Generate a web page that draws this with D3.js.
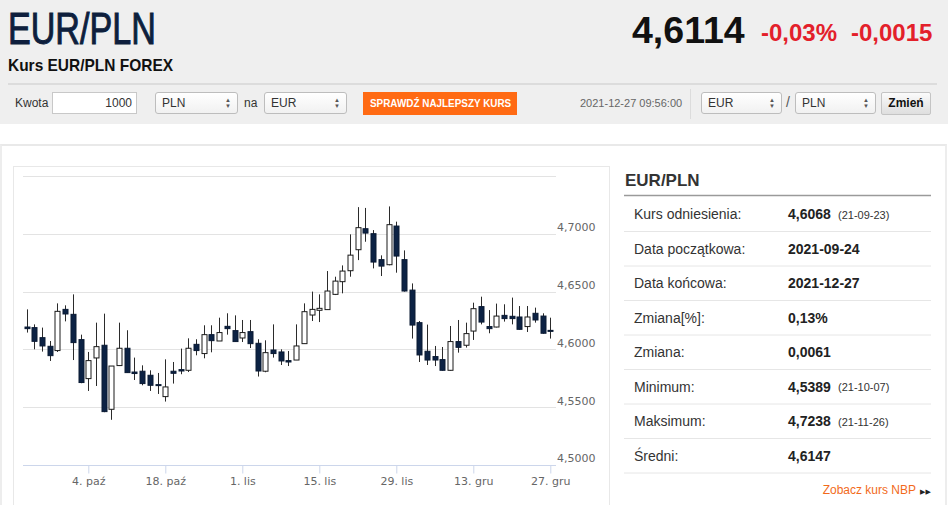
<!DOCTYPE html>
<html>
<head>
<meta charset="utf-8">
<script src="https://cdnjs.cloudflare.com/ajax/libs/d3/7.8.5/d3.min.js"></script>
<style>
  body { margin: 0; width: 948px; height: 505px; overflow: hidden; background: #fff;
         font-family: "Liberation Sans", Arial, sans-serif; color: #333; position: relative; }
  .abs { position: absolute; white-space: nowrap; }
  .narrow { display: inline-block; transform-origin: 0 0; }
  #head { position: absolute; left: 0; top: 0; width: 948px; height: 124px; background: #efefef; }
  .sel { position: absolute; height: 20px; border: 1px solid #bdbdbd; border-radius: 3px;
         background: linear-gradient(#ffffff, #f1f1f1); font-size: 12px; line-height: 20px;
         box-sizing: content-box; }
  .sel span.t { position: absolute; left: 6px; top: 0; }
  .sel span.a { position: absolute; right: 6px; top: 4px; font-size: 6px; line-height: 6px; color: #555; }
  #panel { position: absolute; left: 0; top: 144px; width: 943px; height: 400px;
           border-top: 2px solid #e9e9e9; border-left: 2px solid #ededed; border-right: 2px solid #ededed; }
  #box { position: absolute; left: 13px; top: 166px; width: 595px; height: 360px; border: 1px solid #e8e8e8; }
  #chart { position: absolute; left: 0; top: 0; }
</style>
</head>
<body>
<div id="head"></div>
<div class="abs" style="left:8px;top:5px;font-size:44px;color:#0e1f3d;line-height:48px;-webkit-text-stroke:1px #0e1f3d;">
  <span class="narrow" style="transform:scaleX(0.775)">EUR/PLN</span></div>
<div class="abs" style="left:8px;top:56px;font-size:17px;font-weight:bold;color:#111;">
  <span class="narrow" style="transform:scaleX(0.91)">Kurs EUR/PLN FOREX</span></div>
<div class="abs" style="left:632px;top:9px;font-size:37.5px;font-weight:bold;color:#111;">4,6114</div>
<div class="abs" style="left:761px;top:19px;font-size:24px;font-weight:bold;color:#e3202a;">-0,03%</div>
<div class="abs" style="left:851px;top:19px;font-size:24px;font-weight:bold;color:#e3202a;">-0,0015</div>
<div class="abs" style="left:8px;top:83px;width:929px;height:2px;background:#dcdcdc;"></div>

<div class="abs" style="left:15px;top:96px;font-size:12px;color:#333;">Kwota</div>
<div class="abs" style="left:52px;top:92px;width:83px;height:20px;border:1px solid #c8c8c8;background:#fff;font-size:12px;line-height:20px;text-align:right;">
  <span style="padding-right:4px">1000</span></div>
<div class="sel" style="left:155px;top:92px;width:81px;"><span class="t">PLN</span><span class="a">▲<br>▼</span></div>
<div class="abs" style="left:244px;top:96px;font-size:12px;">na</div>
<div class="sel" style="left:264px;top:92px;width:81px;"><span class="t">EUR</span><span class="a">▲<br>▼</span></div>
<div class="abs" style="left:363px;top:92px;width:154px;height:23px;background:#ff6a13;color:#fff;font-size:11px;font-weight:bold;line-height:23px;">
  <span class="narrow" style="transform:scaleX(0.9);margin-left:7px">SPRAWDŹ NAJLEPSZY KURS</span></div>
<div class="abs" style="left:580px;top:97px;font-size:11px;color:#666;">2021-12-27 09:56:00</div>
<div class="abs" style="left:690px;top:89px;width:1px;height:30px;background:#dcdcdc;"></div>
<div class="sel" style="left:701px;top:92px;width:79px;"><span class="t">EUR</span><span class="a">▲<br>▼</span></div>
<div class="abs" style="left:786px;top:94px;font-size:14px;color:#555;">/</div>
<div class="sel" style="left:795px;top:92px;width:79px;"><span class="t">PLN</span><span class="a">▲<br>▼</span></div>
<div class="abs" style="left:881px;top:92px;width:48px;height:21px;border:1px solid #c4c4c4;border-radius:2px;background:linear-gradient(#fbfbfb,#dedede);font-size:12px;font-weight:bold;line-height:21px;text-align:center;color:#111;">Zmień</div>

<div id="panel"></div>
<div id="box"></div>
<svg id="chart" width="948" height="505"></svg>

<script>
// trading days shown on the chart (2021)
const dates = [
  "09-22","09-23","09-24","09-27","09-28","09-29","09-30","10-01",
  "10-04","10-05","10-06","10-07","10-08","10-11","10-12","10-13","10-14","10-15",
  "10-18","10-19","10-20","10-21","10-22","10-25","10-26","10-27","10-28","10-29",
  "11-01","11-02","11-03","11-04","11-05","11-08","11-09","11-10","11-11","11-12",
  "11-15","11-16","11-17","11-18","11-19","11-22","11-23","11-24","11-25","11-26",
  "11-29","11-30","12-01","12-02","12-03","12-06","12-07","12-08","12-09","12-10",
  "12-13","12-14","12-15","12-16","12-17","12-20","12-21","12-22","12-23","12-24",
  "12-27"
];

const opens = [
  4.6193,4.6188,4.6101,4.6026,4.5989,4.6346,4.6303,4.6084,
  4.5746,4.5925,4.6035,4.5480,4.5859,4.6009,4.5803,4.5810,4.5775,4.5694,
  4.5590,4.5810,4.5824,4.5818,4.6043,4.5963,4.6127,4.6072,4.6199,4.6162,
  4.6098,4.6153,4.6052,4.5810,4.5994,4.5977,4.5902,4.5907,4.6049,4.6297,
  4.6338,4.6344,4.6476,4.6586,4.6681,4.6863,4.7045,4.7002,4.6777,4.6733,
  4.7068,4.6777,4.6513,4.6231,4.5983,4.5937,4.5911,4.5818,4.6067,4.6035,
  4.6158,4.6370,4.6197,4.6193,4.6294,4.6286,4.6280,4.6197,4.6312,4.6288,
  4.6164
];
const highs = [
  4.6346,4.6216,4.6188,4.6072,4.6398,4.6381,4.6476,4.6127,
  4.5977,4.6231,4.6309,4.5855,4.6231,4.6165,4.5928,4.5861,4.5818,4.5795,
  4.5913,4.5890,4.6006,4.6095,4.6087,4.6208,4.6208,4.6274,4.6312,4.6294,
  4.6254,4.6254,4.6087,4.6078,4.6216,4.6000,4.5985,4.6216,4.6398,4.6500,
  4.6476,4.6678,4.6629,4.6727,4.6996,4.7232,4.7225,4.7033,4.6814,4.7238,
  4.7106,4.6857,4.6571,4.6245,4.6214,4.6029,4.6020,4.6202,4.6254,4.6231,
  4.6404,4.6456,4.6340,4.6396,4.6390,4.6448,4.6375,4.6375,4.6361,4.6312,
  4.6274
];
const lows = [
  4.6145,4.6000,4.5980,4.5899,4.5977,4.6242,4.5907,4.5706,
  4.5639,4.5682,4.5455,4.5389,4.5855,4.5798,4.5734,4.5688,4.5639,4.5613,
  4.5547,4.5703,4.5784,4.5803,4.5948,4.5922,4.5974,4.6072,4.6127,4.6067,
  4.6063,4.6011,4.5764,4.5801,4.5928,4.5864,4.5855,4.5907,4.6049,4.6245,
  4.6236,4.6344,4.6470,4.6485,4.6629,4.6773,4.6932,4.6701,4.6635,4.6728,
  4.6664,4.6500,4.6093,4.5890,4.5864,4.5855,4.5815,4.5815,4.5971,4.6015,
  4.6081,4.6216,4.6139,4.6190,4.6240,4.6216,4.6170,4.6150,4.6231,4.6135,
  4.6093
];
const closes = [
  4.6179,4.6069,4.6029,4.5945,4.6329,4.6306,4.6058,4.5712,
  4.5902,4.6023,4.5460,4.5855,4.6009,4.5798,4.5790,4.5703,4.5688,4.5686,
  4.5674,4.5792,4.5812,4.6009,4.5989,4.6127,4.6075,4.6145,4.6179,4.6067,
  4.6145,4.6049,4.5812,4.5971,4.5963,4.5899,4.5890,4.6029,4.6326,4.6346,
  4.6355,4.6505,4.6591,4.6678,4.6816,4.7054,4.7007,4.6756,4.6721,4.7080,
  4.6808,4.6505,4.6210,4.5951,4.5907,4.5907,4.5818,4.6067,4.6017,4.6136,
  4.6352,4.6236,4.6179,4.6288,4.6266,4.6266,4.6173,4.6280,4.6254,4.6139,
  4.6162
];

const tickDates  = ["10-04","10-18","11-01","11-15","11-29","12-13","12-27"];
const tickLabels = ["4. paź","18. paź","1. lis","15. lis","29. lis","13. gru","27. gru"];
const yTicks = [4.50, 4.55, 4.60, 4.65, 4.70, 4.75];

// side table
const rowLabels = ["Kurs odniesienia:","Data początkowa:","Data końcowa:","Zmiana[%]:","Zmiana:","Minimum:","Maksimum:","Średni:"];
const rowValues = ["4,6068","2021-09-24","2021-12-27","0,13%","0,0061","4,5389","4,7238","4,6147"];
const rowDates  = ["(21-09-23)","","","","","(21-10-07)","(21-11-26)",""];

const candles = dates.map((d, i) => ({ d, o: opens[i], h: highs[i], l: lows[i], c: closes[i] }));

const svg = d3.select("#chart");

const x = d3.scalePoint()
            .domain(dates)
            .range([26.7, 550.3]);

const y = d3.scaleLinear()
            .domain([4.50, 4.75])
            .range([464.7, 176.2]);

const fmt = v => d3.format(".4f")(v).replace(".", ",");

// grid
svg.append("g")
   .selectAll("line")
   .data(yTicks.filter(t => t > 4.5))
   .enter().append("line")
   .attr("x1", 23).attr("x2", 556)
   .attr("y1", d => Math.round(y(d)) + 0.5)
   .attr("y2", d => Math.round(y(d)) + 0.5)
   .attr("stroke", "#e3e3e3")
   .attr("stroke-width", 1);

// y labels (the top line has none)
svg.append("g")
   .selectAll("text")
   .data(yTicks.filter(t => t < 4.74))
   .enter().append("text")
   .attr("x", 557)
   .attr("y", d => y(d) - 2.5)
   .attr("font-family", "DejaVu Sans, sans-serif")
   .attr("font-size", 11)
   .attr("fill", "#666")
   .text(fmt);

// x axis
const xAxis = svg.append("g")
                 .attr("transform", `translate(0, ${Math.round(y(4.5)) + 0.5})`)
                 .call(d3.axisBottom(x).tickValues(tickDates).tickSize(8)
                         .tickFormat((d, i) => tickLabels[i]));

xAxis.select(".domain")
     .attr("d", "M23,0H556")
     .attr("stroke", "#ccd6eb");

xAxis.selectAll(".tick line")
     .attr("stroke", "#ccd6eb");

xAxis.selectAll(".tick text")
     .attr("y", 12)
     .attr("font-family", "DejaVu Sans, sans-serif")
     .attr("font-size", 11)
     .attr("fill", "#666");

// candles
const cg = svg.append("g")
              .selectAll("g")
              .data(candles)
              .enter().append("g");

const cx = d => Math.round(x(d.d)) + 0.5;

cg.append("line")
  .attr("x1", cx).attr("x2", cx)
  .attr("y1", d => y(d.h))
  .attr("y2", d => y(d.l))
  .attr("stroke", "#2b2b2b")
  .attr("stroke-width", 1);

cg.append("rect")
  .attr("x", d => cx(d) - 2.5)
  .attr("width", 5)
  .attr("y", d => y(Math.max(d.o, d.c)))
  .attr("height", d => Math.max(1, Math.abs(y(d.o) - y(d.c))))
  .attr("fill", d => d.c >= d.o ? "#fff" : "#0c2244")
  .attr("stroke", d => d.c >= d.o ? "#1a1a1a" : "#0a1a33")
  .attr("stroke-width", 1);

// side panel
const side = svg.append("g");

side.append("text")
    .attr("x", 625).attr("y", 185.5)
    .attr("font-family", "Liberation Sans, Arial, sans-serif")
    .attr("font-size", 17).attr("font-weight", "bold")
    .attr("fill", "#333")
    .text("EUR/PLN");

side.append("line")
    .attr("x1", 624).attr("x2", 931)
    .attr("y1", 195.5).attr("y2", 195.5)
    .attr("stroke", "#9a9a9a").attr("stroke-width", 1.5);

const rowH = 34.5;
const rows = side.selectAll("g.row")
                 .data(rowLabels)
                 .enter().append("g")
                 .attr("class", "row")
                 .attr("transform", (d, i) => `translate(0, ${196.5 + i * rowH})`);

rows.append("line")
    .attr("x1", 624).attr("x2", 931)
    .attr("y1", rowH + 0.5).attr("y2", rowH + 0.5)
    .attr("stroke", "#e6e6e6");

rows.append("text")
    .attr("x", 634).attr("y", 22.5)
    .attr("font-family", "Liberation Sans, Arial, sans-serif")
    .attr("font-size", 14).attr("fill", "#333")
    .text(d => d);

rows.append("text")
    .attr("x", 788).attr("y", 22.5)
    .attr("font-family", "Liberation Sans, Arial, sans-serif")
    .attr("font-size", 14).attr("font-weight", "bold").attr("fill", "#222")
    .text((d, i) => rowValues[i]);

rows.append("text")
    .attr("x", 838).attr("y", 22)
    .attr("font-family", "Liberation Sans, Arial, sans-serif")
    .attr("font-size", 11).attr("fill", "#333")
    .text((d, i) => rowDates[i]);

side.append("text")
    .attr("x", 916).attr("y", 494)
    .attr("text-anchor", "end")
    .attr("font-family", "Liberation Sans, Arial, sans-serif")
    .attr("font-size", 12).attr("fill", "#f26a1b")
    .text("Zobacz kurs NBP");

side.append("text")
    .attr("x", 920).attr("y", 494)
    .attr("font-family", "DejaVu Sans, sans-serif")
    .attr("font-size", 7).attr("fill", "#222")
    .text("▶▶");
</script>
</body>
</html>
